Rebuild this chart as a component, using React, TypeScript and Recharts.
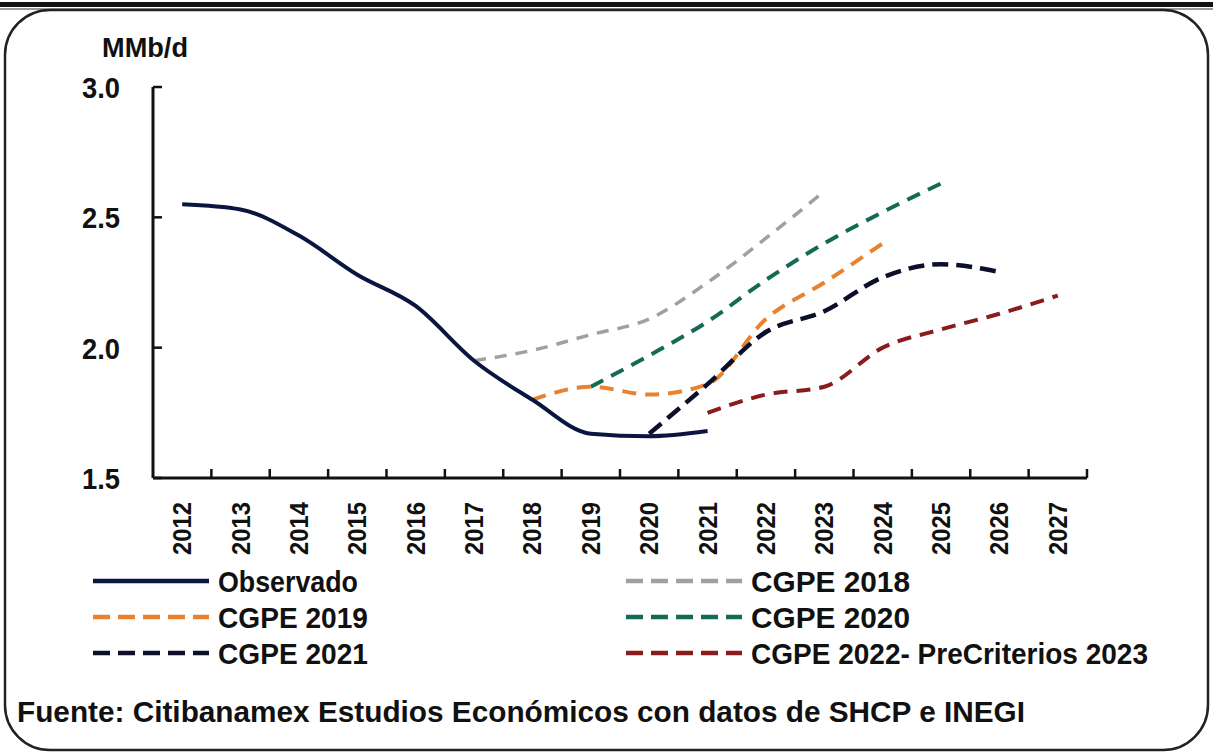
import { LineChart, Line, XAxis, YAxis } from "recharts";

const years = ["2012", "2013", "2014", "2015", "2016", "2017", "2018", "2019", "2020", "2021", "2022", "2023", "2024", "2025", "2026", "2027"];
const observado = [2.55, 2.53, 2.43, 2.28, 2.16, 1.95, 1.8, 1.67, 1.66, 1.68, null, null, null, null, null, null];
const cgpe2018 = [null, null, null, null, null, 1.95, 1.99, 2.05, 2.11, 2.25, 2.42, 2.6, null, null, null, null];
const cgpe2019 = [null, null, null, null, null, null, 1.8, 1.85, 1.82, 1.86, 2.11, 2.25, 2.4, null, null, null];
const cgpe2020 = [null, null, null, null, null, null, null, 1.85, 1.97, 2.1, 2.26, 2.4, 2.52, 2.63, null, null];
const cgpe2021 = [null, null, null, null, null, null, null, null, 1.67, 1.86, 2.06, 2.14, 2.27, 2.32, 2.29, null];
const cgpe2022 = [null, null, null, null, null, null, null, null, null, 1.75, 1.82, 1.85, 2.0, 2.07, 2.13, 2.2];
const yTicks = [1.5, 2.0, 2.5, 3.0];

const data = years.map((year, i) => ({
  year,
  observado: observado[i],
  cgpe2018: cgpe2018[i],
  cgpe2019: cgpe2019[i],
  cgpe2020: cgpe2020[i],
  cgpe2021: cgpe2021[i],
  cgpe2022: cgpe2022[i],
}));

const FONT = "'Liberation Sans', Arial, sans-serif";
const PLOT_LEFT = 153;
const PLOT_RIGHT = 1087;
const PLOT_TOP = 87;
const PLOT_BOTTOM = 478;
const BAND = (PLOT_RIGHT - PLOT_LEFT) / years.length;

const legendItems = [
  { label: "Observado", color: "#0b1640", dash: undefined, x: 93, y: 581, len: 140 },
  { label: "CGPE 2019", color: "#e8822e", dash: "17 8", x: 93, y: 617, len: 150 },
  { label: "CGPE 2021", color: "#0c0f2a", dash: "17 8", x: 93, y: 653, len: 150 },
  { label: "CGPE 2018", color: "#a0a0a0", dash: "17 8", x: 626, y: 581, len: 159 },
  { label: "CGPE 2020", color: "#136b55", dash: "17 8", x: 626, y: 617, len: 159 },
  { label: "CGPE 2022- PreCriterios 2023", color: "#8a1c1c", dash: "17 8", x: 626, y: 653, len: 397 },
];

function XTick(props: any) {
  const { x, payload } = props;
  const bx = x + BAND / 2;
  return (
    <g>
      <line x1={bx} y1={PLOT_BOTTOM} x2={bx} y2={PLOT_BOTTOM - 9} stroke="#111" strokeWidth={2.5} />
      <text
        x={x + 9}
        y={502}
        transform={`rotate(-90 ${x + 9} 502)`}
        textAnchor="end"
        fontFamily={FONT}
        fontWeight="bold"
        fontSize={25}
        fill="#111"
        textLength={53}
        lengthAdjust="spacingAndGlyphs"
      >
        {payload.value}
      </text>
    </g>
  );
}

function YTick(props: any) {
  const { y, payload } = props;
  return (
    <g>
      <line x1={PLOT_LEFT} y1={y} x2={PLOT_LEFT + 9} y2={y} stroke="#111" strokeWidth={2.5} />
      <text
        x={120}
        y={y + 11}
        textAnchor="end"
        fontFamily={FONT}
        fontWeight="bold"
        fontSize={29}
        fill="#111"
        textLength={38}
        lengthAdjust="spacingAndGlyphs"
      >
        {Number(payload.value).toFixed(1)}
      </text>
    </g>
  );
}

export default function App() {
  return (
    <div style={{ position: "absolute", left: 0, top: 0, width: 1213, height: 754, background: "#fff" }}>
      <svg width={1213} height={754} style={{ position: "absolute", left: 0, top: 0 }}>
        <rect x={0} y={2} width={1213} height={5} fill="#111" />
        <rect x={0} y={8} width={1213} height={2} fill="#999" />
        <rect x={5} y={10} width={1203} height={740} rx={45} ry={45} fill="#fff" stroke="#222" strokeWidth={2.5} />
        <text x={102} y={57} fontFamily={FONT} fontWeight="bold" fontSize={28} fill="#111" textLength={86} lengthAdjust="spacingAndGlyphs">
          MMb/d
        </text>
        {legendItems.map((it) => (
          <g key={it.label}>
            <line
              x1={it.x}
              y1={it.y}
              x2={it.x + 116}
              y2={it.y}
              stroke={it.color}
              strokeWidth={4.5}
              strokeDasharray={it.dash}
            />
            <text
              x={it.x + 125}
              y={it.y + 11}
              fontFamily={FONT}
              fontWeight="bold"
              fontSize={30}
              fill="#111"
              textLength={it.len}
              lengthAdjust="spacingAndGlyphs"
            >
              {it.label}
            </text>
          </g>
        ))}
        <text x={17} y={722} fontFamily={FONT} fontWeight="bold" fontSize={30} fill="#111" textLength={1008} lengthAdjust="spacingAndGlyphs">
          Fuente: Citibanamex Estudios Económicos con datos de SHCP e INEGI
        </text>
      </svg>
      <div style={{ position: "absolute", left: 0, top: 0 }}>
        <LineChart
          width={1213}
          height={754}
          data={data}
          margin={{ top: PLOT_TOP, right: 1213 - PLOT_RIGHT, bottom: 754 - PLOT_BOTTOM - 80, left: PLOT_LEFT - 60 }}
        >
          <XAxis
            dataKey="year"
            height={80}
            tickLine={false}
            tickSize={0}
            tickMargin={0}
            interval={0}
            padding={{ left: BAND / 2, right: BAND / 2 }}
            axisLine={{ stroke: "#111", strokeWidth: 3 }}
            tick={<XTick />}
          />
          <YAxis
            width={60}
            domain={[1.5, 3.0]}
            ticks={yTicks}
            tickLine={false}
            tickSize={0}
            tickMargin={0}
            axisLine={{ stroke: "#111", strokeWidth: 3 }}
            tick={<YTick />}
          />
          <Line type="monotone" dataKey="cgpe2018" stroke="#a0a0a0" strokeWidth={3.5} strokeDasharray="12 9" dot={false} isAnimationActive={false} />
          <Line type="monotone" dataKey="cgpe2020" stroke="#136b55" strokeWidth={4} strokeDasharray="14 9" dot={false} isAnimationActive={false} />
          <Line type="monotone" dataKey="cgpe2019" stroke="#e8822e" strokeWidth={4} strokeDasharray="14 9" dot={false} isAnimationActive={false} />
          <Line type="monotone" dataKey="cgpe2022" stroke="#8a1c1c" strokeWidth={4} strokeDasharray="14 9" dot={false} isAnimationActive={false} />
          <Line type="monotone" dataKey="cgpe2021" stroke="#0c0f2a" strokeWidth={4.5} strokeDasharray="16 8" dot={false} isAnimationActive={false} />
          <Line type="monotone" dataKey="observado" stroke="#0b1640" strokeWidth={4} dot={false} isAnimationActive={false} />
        </LineChart>
      </div>
    </div>
  );
}
